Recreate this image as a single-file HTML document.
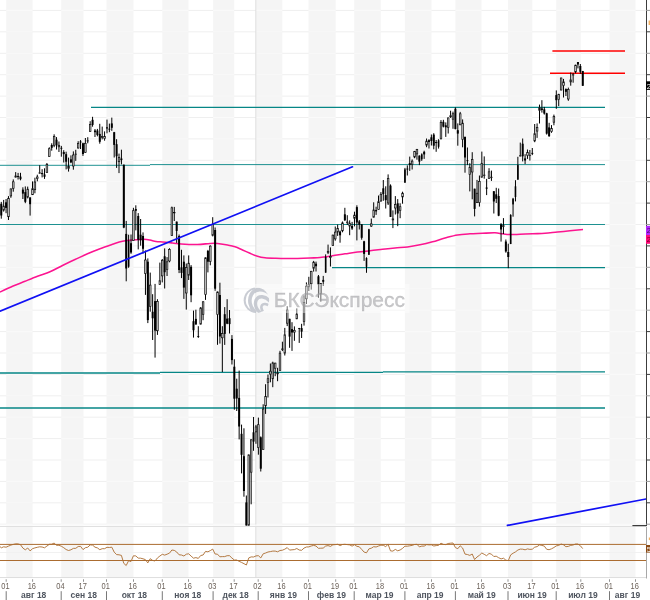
<!DOCTYPE html>
<html lang="ru"><head><meta charset="utf-8"><title>S&amp;P 500</title>
<style>html,body{margin:0;padding:0;background:#fff}body{width:650px;height:600px;overflow:hidden;font-family:"Liberation Sans",sans-serif}svg{display:block}.d{font-size:8.3px;fill:#6c625a}.m{font-size:8.5px;font-weight:bold;fill:#4f555f}.wm{font-size:20.5px;fill:#9c9ca0;fill-opacity:.55;stroke:#9c9ca0;stroke-opacity:.55;stroke-width:.35px}</style></head><body>
<svg width="650" height="600" viewBox="0 0 650 600" font-family="Liberation Sans, sans-serif">
<rect width="650" height="600" fill="#fff"/>
<g fill="#f5f5f5">
<rect x="6.2" y="0" width="26.4" height="578"/>
<rect x="61.2" y="0" width="22.3" height="578"/>
<rect x="106.5" y="0" width="27.0" height="578"/>
<rect x="162.3" y="0" width="26.2" height="578"/>
<rect x="213.1" y="0" width="21.1" height="578"/>
<rect x="255.8" y="0" width="26.5" height="578"/>
<rect x="308.5" y="0" width="27.2" height="578"/>
<rect x="354.2" y="0" width="26.6" height="578"/>
<rect x="404.9" y="0" width="26.6" height="578"/>
<rect x="455.4" y="0" width="26.1" height="578"/>
<rect x="508" y="0" width="24.3" height="578"/>
<rect x="556.2" y="0" width="24.6" height="578"/>
<rect x="609.5" y="0" width="26.0" height="578"/>
</g>
<g stroke="#efefef" stroke-width="1">
<line x1="0" y1="10.4" x2="646" y2="10.4"/>
<line x1="0" y1="31.8" x2="646" y2="31.8"/>
<line x1="0" y1="53.3" x2="646" y2="53.3"/>
<line x1="0" y1="74.7" x2="646" y2="74.7"/>
<line x1="0" y1="96.1" x2="646" y2="96.1"/>
<line x1="0" y1="117.5" x2="646" y2="117.5"/>
<line x1="0" y1="138.9" x2="646" y2="138.9"/>
<line x1="0" y1="160.3" x2="646" y2="160.3"/>
<line x1="0" y1="181.7" x2="646" y2="181.7"/>
<line x1="0" y1="203.1" x2="646" y2="203.1"/>
<line x1="0" y1="224.5" x2="646" y2="224.5"/>
<line x1="0" y1="245.9" x2="646" y2="245.9"/>
<line x1="0" y1="267.3" x2="646" y2="267.3"/>
<line x1="0" y1="288.8" x2="646" y2="288.8"/>
<line x1="0" y1="310.2" x2="646" y2="310.2"/>
<line x1="0" y1="331.6" x2="646" y2="331.6"/>
<line x1="0" y1="353.0" x2="646" y2="353.0"/>
<line x1="0" y1="374.4" x2="646" y2="374.4"/>
<line x1="0" y1="395.8" x2="646" y2="395.8"/>
<line x1="0" y1="417.2" x2="646" y2="417.2"/>
<line x1="0" y1="438.6" x2="646" y2="438.6"/>
<line x1="0" y1="460.0" x2="646" y2="460.0"/>
<line x1="0" y1="481.4" x2="646" y2="481.4"/>
<line x1="0" y1="502.8" x2="646" y2="502.8"/>
<line x1="0" y1="524.2" x2="646" y2="524.2"/>
</g>
<path d="M6.2 10.4H32.6M6.2 31.8H32.6M6.2 53.3H32.6M6.2 74.7H32.6M6.2 96.1H32.6M6.2 117.5H32.6M6.2 138.9H32.6M6.2 160.3H32.6M6.2 181.7H32.6M6.2 203.1H32.6M6.2 224.5H32.6M6.2 245.9H32.6M6.2 267.3H32.6M6.2 288.8H32.6M6.2 310.2H32.6M6.2 331.6H32.6M6.2 353.0H32.6M6.2 374.4H32.6M6.2 395.8H32.6M6.2 417.2H32.6M6.2 438.6H32.6M6.2 460.0H32.6M6.2 481.4H32.6M6.2 502.8H32.6M6.2 524.2H32.6M61.2 10.4H83.5M61.2 31.8H83.5M61.2 53.3H83.5M61.2 74.7H83.5M61.2 96.1H83.5M61.2 117.5H83.5M61.2 138.9H83.5M61.2 160.3H83.5M61.2 181.7H83.5M61.2 203.1H83.5M61.2 224.5H83.5M61.2 245.9H83.5M61.2 267.3H83.5M61.2 288.8H83.5M61.2 310.2H83.5M61.2 331.6H83.5M61.2 353.0H83.5M61.2 374.4H83.5M61.2 395.8H83.5M61.2 417.2H83.5M61.2 438.6H83.5M61.2 460.0H83.5M61.2 481.4H83.5M61.2 502.8H83.5M61.2 524.2H83.5M106.5 10.4H133.5M106.5 31.8H133.5M106.5 53.3H133.5M106.5 74.7H133.5M106.5 96.1H133.5M106.5 117.5H133.5M106.5 138.9H133.5M106.5 160.3H133.5M106.5 181.7H133.5M106.5 203.1H133.5M106.5 224.5H133.5M106.5 245.9H133.5M106.5 267.3H133.5M106.5 288.8H133.5M106.5 310.2H133.5M106.5 331.6H133.5M106.5 353.0H133.5M106.5 374.4H133.5M106.5 395.8H133.5M106.5 417.2H133.5M106.5 438.6H133.5M106.5 460.0H133.5M106.5 481.4H133.5M106.5 502.8H133.5M106.5 524.2H133.5M162.3 10.4H188.5M162.3 31.8H188.5M162.3 53.3H188.5M162.3 74.7H188.5M162.3 96.1H188.5M162.3 117.5H188.5M162.3 138.9H188.5M162.3 160.3H188.5M162.3 181.7H188.5M162.3 203.1H188.5M162.3 224.5H188.5M162.3 245.9H188.5M162.3 267.3H188.5M162.3 288.8H188.5M162.3 310.2H188.5M162.3 331.6H188.5M162.3 353.0H188.5M162.3 374.4H188.5M162.3 395.8H188.5M162.3 417.2H188.5M162.3 438.6H188.5M162.3 460.0H188.5M162.3 481.4H188.5M162.3 502.8H188.5M162.3 524.2H188.5M213.1 10.4H234.2M213.1 31.8H234.2M213.1 53.3H234.2M213.1 74.7H234.2M213.1 96.1H234.2M213.1 117.5H234.2M213.1 138.9H234.2M213.1 160.3H234.2M213.1 181.7H234.2M213.1 203.1H234.2M213.1 224.5H234.2M213.1 245.9H234.2M213.1 267.3H234.2M213.1 288.8H234.2M213.1 310.2H234.2M213.1 331.6H234.2M213.1 353.0H234.2M213.1 374.4H234.2M213.1 395.8H234.2M213.1 417.2H234.2M213.1 438.6H234.2M213.1 460.0H234.2M213.1 481.4H234.2M213.1 502.8H234.2M213.1 524.2H234.2M255.8 10.4H282.3M255.8 31.8H282.3M255.8 53.3H282.3M255.8 74.7H282.3M255.8 96.1H282.3M255.8 117.5H282.3M255.8 138.9H282.3M255.8 160.3H282.3M255.8 181.7H282.3M255.8 203.1H282.3M255.8 224.5H282.3M255.8 245.9H282.3M255.8 267.3H282.3M255.8 288.8H282.3M255.8 310.2H282.3M255.8 331.6H282.3M255.8 353.0H282.3M255.8 374.4H282.3M255.8 395.8H282.3M255.8 417.2H282.3M255.8 438.6H282.3M255.8 460.0H282.3M255.8 481.4H282.3M255.8 502.8H282.3M255.8 524.2H282.3M308.5 10.4H335.7M308.5 31.8H335.7M308.5 53.3H335.7M308.5 74.7H335.7M308.5 96.1H335.7M308.5 117.5H335.7M308.5 138.9H335.7M308.5 160.3H335.7M308.5 181.7H335.7M308.5 203.1H335.7M308.5 224.5H335.7M308.5 245.9H335.7M308.5 267.3H335.7M308.5 288.8H335.7M308.5 310.2H335.7M308.5 331.6H335.7M308.5 353.0H335.7M308.5 374.4H335.7M308.5 395.8H335.7M308.5 417.2H335.7M308.5 438.6H335.7M308.5 460.0H335.7M308.5 481.4H335.7M308.5 502.8H335.7M308.5 524.2H335.7M354.2 10.4H380.8M354.2 31.8H380.8M354.2 53.3H380.8M354.2 74.7H380.8M354.2 96.1H380.8M354.2 117.5H380.8M354.2 138.9H380.8M354.2 160.3H380.8M354.2 181.7H380.8M354.2 203.1H380.8M354.2 224.5H380.8M354.2 245.9H380.8M354.2 267.3H380.8M354.2 288.8H380.8M354.2 310.2H380.8M354.2 331.6H380.8M354.2 353.0H380.8M354.2 374.4H380.8M354.2 395.8H380.8M354.2 417.2H380.8M354.2 438.6H380.8M354.2 460.0H380.8M354.2 481.4H380.8M354.2 502.8H380.8M354.2 524.2H380.8M404.9 10.4H431.5M404.9 31.8H431.5M404.9 53.3H431.5M404.9 74.7H431.5M404.9 96.1H431.5M404.9 117.5H431.5M404.9 138.9H431.5M404.9 160.3H431.5M404.9 181.7H431.5M404.9 203.1H431.5M404.9 224.5H431.5M404.9 245.9H431.5M404.9 267.3H431.5M404.9 288.8H431.5M404.9 310.2H431.5M404.9 331.6H431.5M404.9 353.0H431.5M404.9 374.4H431.5M404.9 395.8H431.5M404.9 417.2H431.5M404.9 438.6H431.5M404.9 460.0H431.5M404.9 481.4H431.5M404.9 502.8H431.5M404.9 524.2H431.5M455.4 10.4H481.5M455.4 31.8H481.5M455.4 53.3H481.5M455.4 74.7H481.5M455.4 96.1H481.5M455.4 117.5H481.5M455.4 138.9H481.5M455.4 160.3H481.5M455.4 181.7H481.5M455.4 203.1H481.5M455.4 224.5H481.5M455.4 245.9H481.5M455.4 267.3H481.5M455.4 288.8H481.5M455.4 310.2H481.5M455.4 331.6H481.5M455.4 353.0H481.5M455.4 374.4H481.5M455.4 395.8H481.5M455.4 417.2H481.5M455.4 438.6H481.5M455.4 460.0H481.5M455.4 481.4H481.5M455.4 502.8H481.5M455.4 524.2H481.5M508 10.4H532.3M508 31.8H532.3M508 53.3H532.3M508 74.7H532.3M508 96.1H532.3M508 117.5H532.3M508 138.9H532.3M508 160.3H532.3M508 181.7H532.3M508 203.1H532.3M508 224.5H532.3M508 245.9H532.3M508 267.3H532.3M508 288.8H532.3M508 310.2H532.3M508 331.6H532.3M508 353.0H532.3M508 374.4H532.3M508 395.8H532.3M508 417.2H532.3M508 438.6H532.3M508 460.0H532.3M508 481.4H532.3M508 502.8H532.3M508 524.2H532.3M556.2 10.4H580.8M556.2 31.8H580.8M556.2 53.3H580.8M556.2 74.7H580.8M556.2 96.1H580.8M556.2 117.5H580.8M556.2 138.9H580.8M556.2 160.3H580.8M556.2 181.7H580.8M556.2 203.1H580.8M556.2 224.5H580.8M556.2 245.9H580.8M556.2 267.3H580.8M556.2 288.8H580.8M556.2 310.2H580.8M556.2 331.6H580.8M556.2 353.0H580.8M556.2 374.4H580.8M556.2 395.8H580.8M556.2 417.2H580.8M556.2 438.6H580.8M556.2 460.0H580.8M556.2 481.4H580.8M556.2 502.8H580.8M556.2 524.2H580.8M609.5 10.4H635.5M609.5 31.8H635.5M609.5 53.3H635.5M609.5 74.7H635.5M609.5 96.1H635.5M609.5 117.5H635.5M609.5 138.9H635.5M609.5 160.3H635.5M609.5 181.7H635.5M609.5 203.1H635.5M609.5 224.5H635.5M609.5 245.9H635.5M609.5 267.3H635.5M609.5 288.8H635.5M609.5 310.2H635.5M609.5 331.6H635.5M609.5 353.0H635.5M609.5 374.4H635.5M609.5 395.8H635.5M609.5 417.2H635.5M609.5 438.6H635.5M609.5 460.0H635.5M609.5 481.4H635.5M609.5 502.8H635.5M609.5 524.2H635.5" stroke="#fafafa" stroke-width="1" fill="none"/>
<line x1="255.8" y1="0" x2="255.8" y2="578" stroke="#dedede" stroke-width="1"/>
<line x1="0" y1="525.2" x2="646" y2="525.2" stroke="#fdfdfd" stroke-width="1"/>
<line x1="0" y1="526.5" x2="646" y2="526.5" stroke="#e0e0e0" stroke-width="1"/>
<line x1="0" y1="552.5" x2="646" y2="552.5" stroke="#f1f1f1" stroke-width="1"/>
<line x1="0" y1="577.6" x2="646" y2="577.6" stroke="#dcdcdc" stroke-width="1"/>
<g stroke="#068686" fill="none">
<line x1="91" y1="107.4" x2="605" y2="107.4" stroke-width="1.35"/>
<path d="M0 165.3H150M150 164.6H605" stroke-width="0.9"/>
<line x1="0" y1="224.5" x2="605" y2="224.5" stroke-width="0.9"/>
<line x1="332" y1="267.6" x2="605" y2="267.6" stroke-width="1.35"/>
<path d="M0 373H160M160 372.4H383M383 371.9H605" stroke-width="1.3"/>
<line x1="0" y1="408" x2="605" y2="408" stroke-width="1.35"/>
</g>
<g stroke="#ff0000" stroke-width="1.5"><line x1="552.4" y1="51" x2="625" y2="51"/><line x1="550" y1="73.2" x2="625" y2="73.2"/></g>
<path d="M0 292C2.1 291.1 8.3 288.1 12.5 286.3C16.7 284.5 20.8 283.0 25 281.3C29.2 279.6 33.3 277.9 37.5 276.3C41.7 274.7 45.8 273.6 50 271.8C54.2 270.0 58.3 267.6 62.5 265.5C66.7 263.4 70.8 261.4 75 259.5C79.2 257.6 83.3 255.6 87.5 253.8C91.7 252.0 95.8 250.4 100 248.8C104.2 247.2 108.8 245.6 112.5 244.3C116.2 243.1 119.2 242.0 122.5 241.3C125.8 240.6 128.9 240.3 132.5 240C136.1 239.7 140.9 239.3 143.8 239.3C146.7 239.3 148.0 239.6 150 240C152.0 240.4 153.9 241.2 156 241.5C158.1 241.8 159.8 241.8 162.5 242C165.2 242.2 168.8 242.6 172.5 243C176.2 243.4 180.8 244.1 185 244.3C189.2 244.6 193.3 244.6 197.5 244.5C201.7 244.4 206.7 243.7 210 243.5C213.3 243.3 214.6 243.2 217.5 243.5C220.4 243.8 224.6 244.4 227.5 245C230.4 245.6 232.5 246.0 235 246.8C237.5 247.6 240.0 248.9 242.5 250C245.0 251.1 247.5 252.2 250 253.3C252.5 254.4 255.0 255.6 257.5 256.3C260.0 257.1 262.1 257.5 265 257.8C267.9 258.1 271.7 258.2 275 258.3C278.3 258.4 281.2 258.5 285 258.5C288.8 258.5 293.3 258.6 297.5 258.5C301.7 258.4 306.2 258.2 310 258C313.8 257.8 316.2 257.9 320 257.5C323.8 257.1 328.3 256.4 332.5 255.8C336.7 255.2 340.8 254.4 345 253.8C349.2 253.2 353.3 252.5 357.5 252C361.7 251.5 365.8 251.2 370 250.8C374.2 250.4 378.3 249.8 382.5 249.3C386.7 248.8 390.8 248.4 395 248C399.2 247.6 403.3 247.5 407.5 247C411.7 246.5 415.8 245.7 420 244.8C424.2 243.9 428.3 242.9 432.5 241.8C436.7 240.7 440.8 239.1 445 238C449.2 236.9 453.3 235.7 457.5 235C461.7 234.3 465.8 234.1 470 233.8C474.2 233.5 478.3 233.5 482.5 233.3C486.7 233.1 491.7 232.7 495 232.8C498.3 232.9 500.0 233.5 502.5 233.8C505.0 234.1 507.1 234.4 510 234.5C512.9 234.6 516.2 234.4 520 234.3C523.8 234.2 528.3 234.0 532.5 233.8C536.7 233.6 540.8 233.6 545 233.3C549.2 233.0 553.3 232.4 557.5 232C561.7 231.6 565.8 231.2 570 230.8C574.2 230.4 580.8 229.7 583 229.5" stroke="#fc1490" stroke-width="1.55" fill="none"/>
<g id="candles">
<path d="M1.27 201.9V218.7M3.67 199.9V211.6M6.07 199.0V213.2M8.48 196.1V220.0M10.88 188.6V197.8M13.28 179.4V191.7M15.68 172.1V177.5M18.09 172.9V179.5M20.49 172.8V180.3M22.89 187.3V199.0M25.30 186.4V203.2M27.70 186.6V198.4M30.10 197.4V215.6M32.50 181.4V195.0M34.91 177.7V193.3M37.31 174.7V181.3M39.71 165.2V173.6M42.12 169.2V177.4M44.52 168.3V178.9M46.92 163.0V172.9M49.32 147.3V156.9M51.73 143.3V150.7M54.13 134.3V147.2M56.53 137.1V149.5M58.94 141.5V152.0M61.34 145.9V156.7M63.74 150.2V162.5M66.14 151.7V169.4M68.55 157.6V171.6M70.95 155.4V163.2M73.35 151.4V169.7M75.75 149.8V160.9M78.16 141.2V148.6M80.56 140.1V149.0M82.96 142.7V155.9M85.37 138.0V152.9M87.77 137.2V143.3M90.17 121.2V132.0M92.57 116.8V126.7M94.98 129.0V137.0M97.38 128.9V136.3M99.78 123.8V143.7M102.19 126.6V139.4M104.59 131.4V140.7M106.99 119.6V133.3M109.39 123.6V132.2M111.80 117.6V130.8M114.20 131.9V157.5M116.60 139.2V167.9M119.01 153.6V173.1M121.41 149.7V164.4M123.81 164.6V228.2M126.21 220.9V281.3M128.62 234.7V267.8M131.02 234.5V253.8M133.42 207.8V241.0M135.82 205.3V230.4M138.23 213.1V249.4M140.63 219.0V245.7M143.03 232.4V253.6M145.44 250.5V294.9M147.84 258.4V323.1M150.24 272.6V311.7M152.64 294.2V340.0M155.05 283.9V357.6M157.45 299.2V334.9M159.85 262.6V284.8M162.26 259.0V282.4M164.66 248.4V288.5M167.06 257.1V276.0M169.46 248.2V262.3M171.87 206.6V235.9M174.27 206.9V221.0M176.67 221.6V242.9M179.08 234.5V273.1M181.48 249.8V278.1M183.88 255.4V298.9M186.28 263.5V309.6M188.69 255.4V280.0M191.09 265.1V302.2M193.49 310.6V337.6M195.89 309.7V324.6M198.30 326.2V337.9M200.70 307.1V324.5M203.10 301.2V320.2M205.51 257.4V299.9M207.91 249.9V272.4M210.31 245.3V265.3M212.71 217.2V236.4M215.12 227.5V290.8M217.52 291.5V344.8M219.92 282.7V343.6M222.33 326.2V372.1M224.73 307.1V344.9M227.13 299.2V324.2M229.53 310.0V333.5M231.94 335.1V364.5M234.34 359.3V409.7M236.74 378.7V411.0M239.15 370.6V439.4M241.55 424.6V473.4M243.95 428.3V496.7M246.35 495.5V525.5M248.76 454.5V525.5M251.16 439.3V504.3M253.56 417.0V450.8M255.96 424.9V443.8M258.37 417.6V454.7M260.77 436.4V471.5M263.17 404.3V449.8M265.58 384.2V413.9M267.98 374.5V397.5M270.38 363.5V382.3M272.78 361.7V387.2M275.19 362.8V376.2M277.59 367.8V381.2M279.99 350.8V370.7M282.40 341.7V351.1M284.80 327.9V355.5M287.20 306.2V326.1M289.60 318.8V347.8M292.01 322.2V350.9M294.41 326.4V340.8M296.81 308.4V319.2M299.22 327.9V342.9M301.62 323.8V338.0M304.02 295.6V325.6M306.42 282.4V304.0M308.83 276.8V291.0M311.23 270.9V289.6M313.63 260.9V271.6M316.03 261.6V271.5M318.44 275.0V297.8M320.84 283.0V301.7M323.24 275.9V286.0M325.65 254.4V272.6M328.05 244.6V254.1M330.45 247.4V266.5M332.85 234.7V245.8M335.26 226.5V240.7M337.66 224.6V235.9M340.06 230.5V242.7M342.47 221.5V232.3M344.87 207.8V221.0M347.27 215.2V224.9M349.67 220.4V235.2M352.08 221.9V229.9M354.48 211.7V226.4M356.88 205.3V240.4M359.29 220.0V229.5M361.69 224.3V239.7M364.09 240.8V260.9M366.49 257.3V272.8M368.90 228.8V254.8M371.30 218.6V226.9M373.70 202.3V217.5M376.10 206.7V214.9M378.51 195.5V209.7M380.91 192.1V201.7M383.31 180.0V200.8M385.72 186.3V208.5M388.12 174.4V205.0M390.52 184.4V217.0M392.92 210.4V228.1M395.33 196.1V214.5M397.73 199.1V226.2M400.13 203.3V218.2M402.54 191.7V203.7M404.94 167.9V182.7M407.34 165.4V175.5M409.74 156.6V170.9M412.15 159.4V169.5M414.55 150.9V158.2M416.95 148.9V159.7M419.36 155.4V165.1M421.76 153.4V160.9M424.16 150.7V158.9M426.56 138.5V147.2M428.97 139.2V148.5M431.37 134.5V145.5M433.77 133.2V149.3M436.17 140.0V151.8M438.58 139.2V148.6M440.98 120.1V139.6M443.38 119.8V127.4M445.79 122.4V136.9M448.19 117.6V133.5M450.59 110.7V117.9M452.99 111.6V128.8M455.40 107.4V129.3M457.80 123.4V145.7M460.20 111.9V125.2M462.61 119.4V147.3M465.01 136.8V172.7M467.41 147.5V165.1M469.81 163.2V191.4M472.22 152.2V199.3M474.62 188.7V216.4M477.02 179.9V203.0M479.43 175.5V206.6M481.83 151.6V177.6M484.23 156.4V178.7M486.63 178.9V195.1M489.04 168.2V178.9M491.44 170.6V180.9M493.84 191.2V213.5M496.24 187.8V203.0M498.65 188.5V216.2M501.05 223.1V241.6M503.45 218.1V234.0M505.86 239.5V252.7M508.26 243.7V268.2M510.66 214.2V244.1M513.06 197.9V216.7M515.47 180.2V201.4M517.87 156.8V179.6M520.27 142.6V156.4M522.68 138.5V161.4M525.08 154.2V164.1M527.48 149.5V158.9M529.88 150.0V160.6M532.29 148.0V155.1M534.69 124.0V142.2M537.09 123.4V137.9M539.50 104.6V123.5M541.90 100.2V112.6M544.30 106.9V114.6M546.70 112.8V134.6M549.11 122.8V136.8M551.51 125.1V132.8M553.91 114.6V125.3M556.31 90.4V108.8M558.72 93.8V106.1M561.12 77.7V90.4M563.52 78.9V97.5M565.93 88.4V96.0M568.33 87.6V100.8M570.73 72.5V85.7M573.13 73.0V82.7M575.54 64.7V73.3M577.94 62.0V68.4M580.34 64.0V73.8M582.75 70.9V85.9" stroke="#000" stroke-width="1" fill="none"/>
<g fill="#000">
<rect x="0.27" y="203.8" width="2.0" height="11.7"/>
<rect x="5.07" y="202.3" width="2.0" height="5.6"/>
<rect x="19.49" y="176.6" width="2.0" height="2.6"/>
<rect x="21.89" y="189.6" width="2.0" height="4.0"/>
<rect x="24.30" y="192.1" width="2.0" height="9.7"/>
<rect x="29.10" y="197.4" width="2.0" height="6.8"/>
<rect x="43.52" y="174.4" width="2.0" height="2.4"/>
<rect x="50.73" y="145.0" width="2.0" height="2.8"/>
<rect x="55.53" y="139.7" width="2.0" height="5.6"/>
<rect x="60.34" y="147.8" width="2.0" height="0.9"/>
<rect x="62.74" y="152.0" width="2.0" height="2.1"/>
<rect x="65.14" y="154.2" width="2.0" height="7.5"/>
<rect x="69.95" y="159.3" width="2.0" height="3.1"/>
<rect x="79.56" y="141.5" width="2.0" height="1.0"/>
<rect x="81.96" y="143.3" width="2.0" height="10.7"/>
<rect x="91.57" y="119.8" width="2.0" height="5.1"/>
<rect x="93.98" y="130.5" width="2.0" height="1.7"/>
<rect x="96.38" y="130.5" width="2.0" height="4.4"/>
<rect x="98.78" y="133.9" width="2.0" height="7.9"/>
<rect x="105.99" y="127.3" width="2.0" height="1.2"/>
<rect x="108.39" y="128.7" width="2.0" height="0.9"/>
<rect x="110.80" y="123.4" width="2.0" height="4.4"/>
<rect x="113.20" y="132.2" width="2.0" height="12.7"/>
<rect x="115.60" y="144.2" width="2.0" height="12.1"/>
<rect x="120.41" y="158.5" width="2.0" height="1.6"/>
<rect x="122.81" y="164.7" width="2.0" height="62.9"/>
<rect x="125.21" y="233.9" width="2.0" height="34.6"/>
<rect x="127.82" y="240.9" width="1.6" height="25.8"/>
<rect x="130.02" y="243.2" width="2.0" height="9.3"/>
<rect x="134.82" y="209.0" width="2.0" height="1.8"/>
<rect x="137.23" y="216.0" width="2.0" height="23.7"/>
<rect x="139.63" y="234.7" width="2.0" height="5.6"/>
<rect x="142.03" y="236.0" width="2.0" height="12.8"/>
<rect x="146.84" y="261.7" width="2.0" height="58.4"/>
<rect x="151.64" y="311.7" width="2.0" height="6.6"/>
<rect x="154.05" y="301.1" width="2.0" height="29.5"/>
<rect x="163.66" y="256.3" width="2.0" height="15.9"/>
<rect x="175.67" y="221.6" width="2.0" height="9.3"/>
<rect x="178.08" y="236.0" width="2.0" height="34.0"/>
<rect x="180.48" y="267.3" width="2.0" height="5.6"/>
<rect x="182.88" y="261.7" width="2.0" height="25.9"/>
<rect x="190.09" y="266.8" width="2.0" height="28.5"/>
<rect x="192.49" y="321.2" width="2.0" height="9.1"/>
<rect x="194.89" y="318.9" width="2.0" height="5.6"/>
<rect x="197.30" y="336.1" width="2.0" height="0.9"/>
<rect x="206.91" y="250.9" width="2.0" height="10.8"/>
<rect x="214.12" y="230.0" width="2.0" height="58.7"/>
<rect x="218.92" y="295.0" width="2.0" height="41.5"/>
<rect x="223.73" y="314.2" width="2.0" height="19.7"/>
<rect x="226.13" y="318.6" width="2.0" height="5.1"/>
<rect x="228.53" y="318.2" width="2.0" height="5.9"/>
<rect x="230.94" y="338.9" width="2.0" height="21.2"/>
<rect x="233.34" y="366.7" width="2.0" height="32.0"/>
<rect x="235.74" y="388.7" width="2.0" height="9.8"/>
<rect x="238.15" y="397.9" width="2.0" height="28.6"/>
<rect x="240.55" y="433.8" width="2.0" height="21.0"/>
<rect x="242.95" y="456.2" width="2.0" height="34.8"/>
<rect x="245.35" y="502.4" width="2.0" height="23.1"/>
<rect x="252.56" y="432.3" width="2.0" height="9.3"/>
<rect x="259.77" y="437.3" width="2.0" height="31.4"/>
<rect x="288.60" y="318.8" width="2.0" height="17.8"/>
<rect x="291.01" y="329.1" width="2.0" height="3.4"/>
<rect x="298.22" y="328.0" width="2.0" height="0.9"/>
<rect x="300.62" y="328.1" width="2.0" height="3.5"/>
<rect x="315.03" y="263.7" width="2.0" height="2.5"/>
<rect x="317.44" y="276.3" width="2.0" height="8.2"/>
<rect x="322.24" y="279.9" width="2.0" height="1.9"/>
<rect x="324.85" y="256.9" width="1.6" height="15.8"/>
<rect x="339.06" y="231.5" width="2.0" height="3.8"/>
<rect x="343.87" y="214.3" width="2.0" height="5.9"/>
<rect x="351.08" y="225.9" width="2.0" height="2.6"/>
<rect x="355.88" y="207.1" width="2.0" height="15.4"/>
<rect x="358.29" y="221.4" width="2.0" height="3.4"/>
<rect x="360.69" y="224.3" width="2.0" height="13.5"/>
<rect x="363.09" y="241.3" width="2.0" height="12.6"/>
<rect x="365.69" y="258.0" width="1.6" height="8.8"/>
<rect x="368.10" y="229.3" width="1.6" height="25.5"/>
<rect x="375.10" y="210.0" width="2.0" height="1.4"/>
<rect x="382.31" y="188.3" width="2.0" height="5.9"/>
<rect x="384.72" y="195.1" width="2.0" height="5.1"/>
<rect x="389.52" y="185.6" width="2.0" height="31.3"/>
<rect x="396.73" y="203.3" width="2.0" height="10.2"/>
<rect x="404.14" y="169.4" width="1.6" height="13.3"/>
<rect x="406.34" y="168.6" width="2.0" height="0.9"/>
<rect x="408.74" y="163.1" width="2.0" height="1.9"/>
<rect x="418.36" y="155.6" width="2.0" height="6.0"/>
<rect x="420.96" y="154.4" width="1.6" height="4.9"/>
<rect x="423.16" y="151.8" width="2.0" height="2.6"/>
<rect x="427.97" y="140.1" width="2.0" height="1.9"/>
<rect x="430.37" y="137.3" width="2.0" height="3.7"/>
<rect x="432.77" y="134.6" width="2.0" height="11.1"/>
<rect x="437.78" y="140.3" width="1.6" height="6.5"/>
<rect x="442.38" y="121.8" width="2.0" height="4.8"/>
<rect x="444.79" y="125.3" width="2.0" height="2.0"/>
<rect x="454.40" y="108.7" width="2.0" height="20.4"/>
<rect x="456.80" y="130.2" width="2.0" height="3.4"/>
<rect x="464.01" y="136.8" width="2.0" height="20.7"/>
<rect x="466.41" y="160.2" width="2.0" height="0.9"/>
<rect x="473.62" y="188.7" width="2.0" height="20.2"/>
<rect x="485.63" y="187.5" width="2.0" height="1.2"/>
<rect x="492.84" y="191.2" width="2.0" height="10.3"/>
<rect x="495.24" y="194.3" width="2.0" height="4.5"/>
<rect x="497.65" y="196.0" width="2.0" height="19.7"/>
<rect x="500.05" y="224.3" width="2.0" height="5.2"/>
<rect x="504.86" y="241.5" width="2.0" height="10.0"/>
<rect x="507.26" y="252.0" width="2.0" height="5.0"/>
<rect x="509.86" y="215.0" width="1.6" height="29.0"/>
<rect x="512.26" y="198.7" width="1.6" height="5.7"/>
<rect x="514.67" y="186.3" width="1.6" height="10.7"/>
<rect x="517.07" y="165.1" width="1.6" height="14.6"/>
<rect x="521.68" y="143.7" width="2.0" height="12.6"/>
<rect x="524.08" y="158.4" width="2.0" height="2.1"/>
<rect x="531.29" y="152.9" width="2.0" height="0.9"/>
<rect x="540.90" y="108.4" width="2.0" height="1.6"/>
<rect x="543.30" y="109.3" width="2.0" height="4.3"/>
<rect x="545.70" y="113.3" width="2.0" height="20.3"/>
<rect x="548.11" y="127.4" width="2.0" height="8.8"/>
<rect x="555.31" y="95.1" width="2.0" height="5.1"/>
<rect x="564.93" y="89.1" width="2.0" height="2.7"/>
<rect x="576.94" y="62.0" width="2.0" height="2.5"/>
<rect x="579.34" y="66.0" width="2.0" height="5.8"/>
<rect x="581.75" y="71.0" width="2.0" height="14.8"/>
</g><g fill="#c6c6c6" stroke="#0a0a0a" stroke-width="0.68">
<rect x="2.86" y="206.1" width="1.62" height="4.0"/>
<rect x="7.67" y="198.3" width="1.62" height="18.4"/>
<rect x="10.07" y="188.9" width="1.62" height="7.0"/>
<rect x="12.47" y="181.8" width="1.62" height="6.5"/>
<rect x="14.87" y="176.0" width="1.62" height="1.1"/>
<rect x="17.28" y="176.4" width="1.62" height="0.3"/>
<rect x="26.89" y="189.2" width="1.62" height="7.9"/>
<rect x="31.69" y="188.7" width="1.62" height="6.0"/>
<rect x="34.10" y="182.0" width="1.62" height="7.7"/>
<rect x="36.50" y="177.0" width="1.62" height="1.6"/>
<rect x="38.90" y="172.8" width="1.62" height="0.4"/>
<rect x="41.31" y="173.5" width="1.62" height="0.3"/>
<rect x="46.11" y="164.4" width="1.62" height="8.1"/>
<rect x="48.51" y="148.7" width="1.62" height="7.9"/>
<rect x="53.32" y="136.4" width="1.62" height="8.9"/>
<rect x="58.13" y="145.3" width="1.62" height="1.5"/>
<rect x="67.74" y="166.6" width="1.62" height="1.7"/>
<rect x="72.54" y="155.0" width="1.62" height="11.0"/>
<rect x="74.94" y="154.1" width="1.62" height="0.3"/>
<rect x="77.35" y="143.4" width="1.62" height="4.6"/>
<rect x="84.56" y="143.3" width="1.62" height="9.0"/>
<rect x="86.96" y="140.7" width="1.62" height="0.3"/>
<rect x="89.36" y="124.4" width="1.62" height="7.2"/>
<rect x="101.38" y="136.4" width="1.62" height="1.0"/>
<rect x="103.78" y="136.4" width="1.62" height="2.2"/>
<rect x="118.20" y="157.5" width="1.62" height="4.2"/>
<rect x="132.61" y="210.7" width="1.62" height="29.9"/>
<rect x="144.63" y="260.0" width="1.62" height="13.4"/>
<rect x="149.43" y="285.1" width="1.62" height="21.2"/>
<rect x="156.64" y="301.5" width="1.62" height="29.2"/>
<rect x="159.04" y="280.7" width="1.62" height="3.7"/>
<rect x="161.45" y="260.3" width="1.62" height="15.6"/>
<rect x="166.25" y="261.8" width="1.62" height="7.8"/>
<rect x="168.65" y="249.5" width="1.62" height="11.5"/>
<rect x="171.06" y="207.8" width="1.62" height="27.7"/>
<rect x="173.46" y="212.6" width="1.62" height="0.3"/>
<rect x="185.47" y="267.5" width="1.62" height="25.5"/>
<rect x="187.88" y="263.2" width="1.62" height="12.0"/>
<rect x="199.89" y="308.0" width="1.62" height="16.1"/>
<rect x="202.29" y="301.8" width="1.62" height="12.5"/>
<rect x="204.70" y="257.8" width="1.62" height="36.7"/>
<rect x="209.50" y="246.1" width="1.62" height="15.3"/>
<rect x="211.90" y="224.6" width="1.62" height="10.7"/>
<rect x="216.71" y="292.0" width="1.62" height="22.5"/>
<rect x="221.52" y="333.6" width="1.62" height="4.2"/>
<rect x="247.95" y="454.9" width="1.62" height="70.3"/>
<rect x="250.35" y="439.8" width="1.62" height="32.4"/>
<rect x="255.15" y="426.9" width="1.62" height="5.0"/>
<rect x="257.56" y="424.7" width="1.62" height="22.9"/>
<rect x="262.36" y="409.1" width="1.62" height="40.4"/>
<rect x="264.77" y="396.4" width="1.62" height="9.4"/>
<rect x="267.17" y="378.7" width="1.62" height="3.8"/>
<rect x="269.57" y="371.2" width="1.62" height="2.9"/>
<rect x="271.97" y="362.9" width="1.62" height="15.8"/>
<rect x="274.38" y="363.1" width="1.62" height="5.2"/>
<rect x="276.78" y="372.9" width="1.62" height="1.0"/>
<rect x="279.18" y="353.1" width="1.62" height="17.3"/>
<rect x="281.59" y="349.0" width="1.62" height="0.3"/>
<rect x="283.99" y="334.8" width="1.62" height="18.3"/>
<rect x="286.39" y="310.0" width="1.62" height="13.2"/>
<rect x="293.60" y="330.3" width="1.62" height="1.8"/>
<rect x="296.00" y="314.2" width="1.62" height="4.6"/>
<rect x="303.21" y="302.6" width="1.62" height="18.9"/>
<rect x="305.61" y="286.2" width="1.62" height="12.6"/>
<rect x="308.02" y="284.5" width="1.62" height="2.3"/>
<rect x="310.42" y="271.3" width="1.62" height="12.5"/>
<rect x="312.82" y="262.2" width="1.62" height="6.0"/>
<rect x="320.03" y="283.5" width="1.62" height="10.4"/>
<rect x="327.24" y="251.3" width="1.62" height="1.2"/>
<rect x="329.64" y="256.5" width="1.62" height="0.9"/>
<rect x="332.04" y="235.1" width="1.62" height="10.3"/>
<rect x="334.45" y="232.1" width="1.62" height="6.8"/>
<rect x="336.85" y="228.6" width="1.62" height="3.4"/>
<rect x="341.66" y="222.9" width="1.62" height="7.9"/>
<rect x="346.46" y="222.1" width="1.62" height="0.4"/>
<rect x="348.86" y="223.2" width="1.62" height="2.8"/>
<rect x="353.67" y="215.1" width="1.62" height="3.2"/>
<rect x="370.49" y="223.8" width="1.62" height="2.3"/>
<rect x="372.89" y="210.0" width="1.62" height="7.2"/>
<rect x="377.70" y="201.7" width="1.62" height="7.7"/>
<rect x="380.10" y="194.3" width="1.62" height="6.7"/>
<rect x="387.31" y="178.6" width="1.62" height="24.4"/>
<rect x="392.11" y="218.9" width="1.62" height="1.0"/>
<rect x="394.52" y="204.5" width="1.62" height="3.5"/>
<rect x="399.32" y="206.7" width="1.62" height="3.6"/>
<rect x="401.73" y="193.2" width="1.62" height="3.7"/>
<rect x="411.34" y="161.1" width="1.62" height="3.2"/>
<rect x="413.74" y="151.6" width="1.62" height="5.4"/>
<rect x="416.14" y="149.4" width="1.62" height="4.5"/>
<rect x="425.75" y="141.1" width="1.62" height="4.0"/>
<rect x="435.36" y="142.4" width="1.62" height="0.3"/>
<rect x="440.17" y="122.3" width="1.62" height="16.2"/>
<rect x="447.38" y="117.9" width="1.62" height="9.4"/>
<rect x="449.78" y="115.7" width="1.62" height="1.0"/>
<rect x="452.18" y="113.7" width="1.62" height="5.5"/>
<rect x="459.39" y="113.8" width="1.62" height="11.0"/>
<rect x="461.80" y="123.2" width="1.62" height="16.2"/>
<rect x="469.00" y="167.3" width="1.62" height="7.1"/>
<rect x="471.41" y="159.6" width="1.62" height="12.4"/>
<rect x="476.21" y="193.2" width="1.62" height="9.5"/>
<rect x="478.62" y="181.4" width="1.62" height="21.1"/>
<rect x="481.02" y="163.3" width="1.62" height="13.9"/>
<rect x="483.42" y="175.1" width="1.62" height="0.3"/>
<rect x="488.23" y="171.8" width="1.62" height="6.7"/>
<rect x="490.63" y="177.2" width="1.62" height="0.3"/>
<rect x="502.64" y="225.7" width="1.62" height="0.7"/>
<rect x="519.46" y="155.7" width="1.62" height="0.3"/>
<rect x="526.67" y="152.4" width="1.62" height="3.2"/>
<rect x="529.07" y="155.3" width="1.62" height="0.3"/>
<rect x="533.88" y="133.7" width="1.62" height="7.2"/>
<rect x="536.28" y="127.5" width="1.62" height="3.6"/>
<rect x="538.69" y="107.7" width="1.62" height="2.6"/>
<rect x="550.70" y="128.6" width="1.62" height="3.0"/>
<rect x="553.10" y="116.5" width="1.62" height="5.7"/>
<rect x="557.91" y="94.3" width="1.62" height="5.2"/>
<rect x="560.31" y="78.0" width="1.62" height="12.0"/>
<rect x="562.71" y="81.9" width="1.62" height="3.7"/>
<rect x="567.52" y="89.6" width="1.62" height="9.4"/>
<rect x="569.92" y="79.9" width="1.62" height="2.0"/>
<rect x="572.32" y="74.7" width="1.62" height="0.3"/>
<rect x="574.73" y="65.2" width="1.62" height="6.7"/>
</g></g>
<g stroke="#1010f4" stroke-width="1.7" stroke-linecap="round"><line x1="0" y1="311.2" x2="352.5" y2="166.8"/><line x1="507.4" y1="525.4" x2="646" y2="499"/></g>
<rect x="239" y="284" width="170.5" height="29" fill="#fff" opacity="0.4"/>
<defs><clipPath id="gl"><circle cx="256.4" cy="300.3" r="12.7"/></clipPath></defs>
<g clip-path="url(#gl)" opacity="0.8" fill="none" stroke="#bcc0c9" stroke-linecap="butt"><path d="M255 287.4C248 288.5 243.9 294 243.9 300.5C243.9 307 248.5 312.3 256 313.2" stroke-width="3.6"/><path d="M270.5 294.2C264 288 255 287.8 251.3 294.5C248.6 300 249.8 307 255.5 312.6" stroke-width="3.8"/><path d="M270.5 301.6C265 295.6 258.6 295.2 256.2 300C254.6 304 256 309 260.5 313" stroke-width="3.4"/><path d="M270.5 307C266.5 303 262.8 303.2 261.6 306C260.9 308.4 262 311 264.5 313" stroke-width="2.6"/></g>
<text class="wm" x="273.7" y="307.2" textLength="131.3" lengthAdjust="spacingAndGlyphs">БКСЭкспресс</text>
<g stroke="#ab6c30" fill="none"><line x1="0" y1="544.4" x2="646" y2="544.4" stroke-width="1"/><line x1="0" y1="560.5" x2="646" y2="560.5" stroke-width="1"/>
<path d="M-1.1 545.6L1.3 547.8L3.7 546.8L6.1 547.2L8.5 546.1L10.9 545.1L13.3 544.4L15.7 543.8L18.1 543.9L20.5 544.7L22.9 548.1L25.3 549.8L27.7 548.0L30.1 550.9L32.5 548.7L34.9 547.9L37.3 547.3L39.7 546.8L42.1 547.0L44.5 547.8L46.9 546.1L49.3 544.3L51.7 544.2L54.1 543.1L56.5 545.3L58.9 545.3L61.3 546.2L63.7 547.7L66.1 549.5L68.5 550.5L70.9 549.8L73.4 548.4L75.8 548.3L78.2 546.5L80.6 546.4L83.0 549.6L85.4 547.7L87.8 547.2L90.2 544.9L92.6 545.1L95.0 547.2L97.4 547.9L99.8 549.7L102.2 548.7L104.6 548.7L107.0 547.3L109.4 547.5L111.8 547.2L114.2 552.1L116.6 554.6L119.0 554.8L121.4 555.4L123.8 563.4L126.2 565.5L128.6 560.7L131.0 561.5L133.4 555.8L135.8 555.9L138.2 558.1L140.6 558.2L143.0 558.8L145.4 559.6L147.8 562.9L150.2 558.7L152.6 560.4L155.0 561.0L157.5 557.9L159.9 556.0L162.3 554.3L164.7 555.1L167.1 554.2L169.5 553.1L171.9 550.0L174.3 550.4L176.7 552.0L179.1 554.8L181.5 555.0L183.9 556.0L186.3 554.2L188.7 553.8L191.1 556.1L193.5 558.2L195.9 557.6L198.3 558.4L200.7 555.5L203.1 555.0L205.5 551.4L207.9 551.8L210.3 550.6L212.7 549.1L215.1 554.0L217.5 554.2L219.9 556.8L222.3 556.6L224.7 556.6L227.1 555.7L229.5 555.7L231.9 558.0L234.3 560.0L236.7 560.0L239.1 561.3L241.5 562.4L244.0 563.7L246.4 565.0L248.8 557.9L251.2 556.9L253.6 557.0L256.0 555.9L258.4 555.7L260.8 557.9L263.2 553.8L265.6 553.0L268.0 552.0L270.4 551.6L272.8 551.1L275.2 551.1L277.6 551.8L280.0 550.5L282.4 550.2L284.8 549.2L287.2 547.6L289.6 550.1L292.0 549.8L294.4 549.6L296.8 548.5L299.2 550.0L301.6 550.3L304.0 548.1L306.4 547.0L308.8 546.9L311.2 546.0L313.6 545.4L316.0 546.0L318.4 548.3L320.8 548.2L323.2 548.1L325.6 546.1L328.0 545.6L330.5 546.4L332.9 544.8L335.3 544.6L337.7 544.3L340.1 545.6L342.5 544.5L344.9 544.3L347.3 544.6L349.7 544.9L352.1 546.1L354.5 544.7L356.9 546.3L359.3 546.8L361.7 549.4L364.1 552.1L366.5 552.8L368.9 548.9L371.3 548.2L373.7 546.7L376.1 547.0L378.5 546.0L380.9 545.2L383.3 545.3L385.7 546.6L388.1 544.3L390.5 550.9L392.9 551.1L395.3 549.4L397.7 550.8L400.1 550.0L402.5 548.4L404.9 546.2L407.3 546.2L409.7 545.8L412.1 545.4L414.5 544.5L417.0 544.3L419.4 546.9L421.8 546.1L424.2 546.1L426.6 544.6L429.0 544.9L431.4 544.8L433.8 546.0L436.2 545.6L438.6 545.3L441.0 543.2L443.4 544.4L445.8 544.6L448.2 543.5L450.6 543.2L453.0 543.0L455.4 547.6L457.8 548.7L460.2 545.8L462.6 548.0L465.0 554.1L467.4 554.5L469.8 555.4L472.2 554.0L474.6 559.5L477.0 557.0L479.4 555.3L481.8 553.0L484.2 554.3L486.6 555.7L489.0 553.5L491.4 554.1L493.8 556.5L496.2 556.2L498.6 557.7L501.1 558.9L503.5 558.2L505.9 560.2L508.3 560.6L510.7 554.9L513.1 553.2L515.5 551.9L517.9 550.0L520.3 549.1L522.7 549.2L525.1 549.8L527.5 548.9L529.9 549.4L532.3 549.2L534.7 547.2L537.1 546.6L539.5 544.9L541.9 545.4L544.3 546.1L546.7 549.3L549.1 549.7L551.5 548.8L553.9 547.5L556.3 545.9L558.7 545.4L561.1 544.0L563.5 544.8L565.9 546.7L568.3 546.4L570.7 545.4L573.1 545.0L575.5 544.0L577.9 544.0L580.3 545.7L582.7 548.6" stroke-width="0.9" stroke-linejoin="round"/></g>
<rect x="646" y="0" width="4" height="600" fill="#fff"/>
<rect x="0" y="578.5" width="650" height="22" fill="#fff"/>
<line x1="646.5" y1="0" x2="646.5" y2="526" stroke="#3c3c3c" stroke-width="1"/>
<line x1="632.4" y1="525.6" x2="647" y2="525.6" stroke="#333" stroke-width="1.1"/>
<line x1="646.5" y1="527" x2="646.5" y2="578.5" stroke="#a8a8a8" stroke-width="1"/>
<line x1="646" y1="10.4" x2="650" y2="10.4" stroke="#9a9a9a" stroke-width="1"/>
<line x1="646" y1="31.8" x2="650" y2="31.8" stroke="#3c3c3c" stroke-width="1"/>
<line x1="646" y1="53.3" x2="650" y2="53.3" stroke="#9a9a9a" stroke-width="1"/>
<line x1="646" y1="74.7" x2="650" y2="74.7" stroke="#3c3c3c" stroke-width="1"/>
<line x1="646" y1="96.1" x2="650" y2="96.1" stroke="#9a9a9a" stroke-width="1"/>
<line x1="646" y1="117.5" x2="650" y2="117.5" stroke="#3c3c3c" stroke-width="1"/>
<line x1="646" y1="138.9" x2="650" y2="138.9" stroke="#9a9a9a" stroke-width="1"/>
<line x1="646" y1="160.3" x2="650" y2="160.3" stroke="#3c3c3c" stroke-width="1"/>
<line x1="646" y1="181.7" x2="650" y2="181.7" stroke="#9a9a9a" stroke-width="1"/>
<line x1="646" y1="203.1" x2="650" y2="203.1" stroke="#3c3c3c" stroke-width="1"/>
<line x1="646" y1="224.5" x2="650" y2="224.5" stroke="#9a9a9a" stroke-width="1"/>
<line x1="646" y1="245.9" x2="650" y2="245.9" stroke="#3c3c3c" stroke-width="1"/>
<line x1="646" y1="267.3" x2="650" y2="267.3" stroke="#9a9a9a" stroke-width="1"/>
<line x1="646" y1="288.8" x2="650" y2="288.8" stroke="#3c3c3c" stroke-width="1"/>
<line x1="646" y1="310.2" x2="650" y2="310.2" stroke="#9a9a9a" stroke-width="1"/>
<line x1="646" y1="331.6" x2="650" y2="331.6" stroke="#3c3c3c" stroke-width="1"/>
<line x1="646" y1="353.0" x2="650" y2="353.0" stroke="#9a9a9a" stroke-width="1"/>
<line x1="646" y1="374.4" x2="650" y2="374.4" stroke="#3c3c3c" stroke-width="1"/>
<line x1="646" y1="395.8" x2="650" y2="395.8" stroke="#9a9a9a" stroke-width="1"/>
<line x1="646" y1="417.2" x2="650" y2="417.2" stroke="#3c3c3c" stroke-width="1"/>
<line x1="646" y1="438.6" x2="650" y2="438.6" stroke="#9a9a9a" stroke-width="1"/>
<line x1="646" y1="460.0" x2="650" y2="460.0" stroke="#3c3c3c" stroke-width="1"/>
<line x1="646" y1="481.4" x2="650" y2="481.4" stroke="#9a9a9a" stroke-width="1"/>
<line x1="646" y1="502.8" x2="650" y2="502.8" stroke="#3c3c3c" stroke-width="1"/>
<line x1="646" y1="524.2" x2="650" y2="524.2" stroke="#9a9a9a" stroke-width="1"/>
<rect x="648.6" y="20.5" width="2" height="4.5" fill="#f5b060"/>
<rect x="646" y="81.3" width="4" height="8.6" fill="#000"/><text x="646.8" y="88.6" font-size="7.6" fill="#fff">2</text>
<rect x="646" y="225.8" width="4" height="9.2" fill="#b428ff"/><text x="646.8" y="233.4" font-size="7.6" fill="#401060">2</text>
<rect x="646" y="235" width="4" height="8.8" fill="#ff0a78"/><text x="646.8" y="242.4" font-size="7.6" fill="#70002c">2</text>
<rect x="646" y="545" width="4" height="7.6" fill="#8a4a14"/><text x="646.8" y="551.6" font-size="7.6" fill="#fff">5</text>
<rect x="648.8" y="537.5" width="2" height="2.6" fill="#f5b060"/>
<g stroke="#777" stroke-width="0.8">
<line x1="6.2" y1="579.3" x2="6.2" y2="581.8"/>
<line x1="32.6" y1="579.3" x2="32.6" y2="581.8"/>
<line x1="61.2" y1="579.3" x2="61.2" y2="581.8"/>
<line x1="83.5" y1="579.3" x2="83.5" y2="581.8"/>
<line x1="106.5" y1="579.3" x2="106.5" y2="581.8"/>
<line x1="133.5" y1="579.3" x2="133.5" y2="581.8"/>
<line x1="162.3" y1="579.3" x2="162.3" y2="581.8"/>
<line x1="188.5" y1="579.3" x2="188.5" y2="581.8"/>
<line x1="213.1" y1="579.3" x2="213.1" y2="581.8"/>
<line x1="234.2" y1="579.3" x2="234.2" y2="581.8"/>
<line x1="258.2" y1="579.3" x2="258.2" y2="581.8"/>
<line x1="282.3" y1="579.3" x2="282.3" y2="581.8"/>
<line x1="308.5" y1="579.3" x2="308.5" y2="581.8"/>
<line x1="335.7" y1="579.3" x2="335.7" y2="581.8"/>
<line x1="354.2" y1="579.3" x2="354.2" y2="581.8"/>
<line x1="380.8" y1="579.3" x2="380.8" y2="581.8"/>
<line x1="404.9" y1="579.3" x2="404.9" y2="581.8"/>
<line x1="431.5" y1="579.3" x2="431.5" y2="581.8"/>
<line x1="455.4" y1="579.3" x2="455.4" y2="581.8"/>
<line x1="481.5" y1="579.3" x2="481.5" y2="581.8"/>
<line x1="508" y1="579.3" x2="508" y2="581.8"/>
<line x1="532.3" y1="579.3" x2="532.3" y2="581.8"/>
<line x1="556.2" y1="579.3" x2="556.2" y2="581.8"/>
<line x1="580.8" y1="579.3" x2="580.8" y2="581.8"/>
<line x1="609.5" y1="579.3" x2="609.5" y2="581.8"/>
<line x1="635.5" y1="579.3" x2="635.5" y2="581.8"/>
</g><g stroke="#555" stroke-width="0.8">
<line x1="6.2" y1="591.2" x2="6.2" y2="600"/>
<line x1="61.2" y1="591.2" x2="61.2" y2="600"/>
<line x1="106.5" y1="591.2" x2="106.5" y2="600"/>
<line x1="162.3" y1="591.2" x2="162.3" y2="600"/>
<line x1="213.1" y1="591.2" x2="213.1" y2="600"/>
<line x1="258.2" y1="591.2" x2="258.2" y2="600"/>
<line x1="308.5" y1="591.2" x2="308.5" y2="600"/>
<line x1="354.2" y1="591.2" x2="354.2" y2="600"/>
<line x1="404.9" y1="591.2" x2="404.9" y2="600"/>
<line x1="455.4" y1="591.2" x2="455.4" y2="600"/>
<line x1="508" y1="591.2" x2="508" y2="600"/>
<line x1="556.2" y1="591.2" x2="556.2" y2="600"/>
<line x1="609.5" y1="591.2" x2="609.5" y2="600"/>
</g>
<text class="d" x="5.4" y="589.3" text-anchor="middle" textLength="8.3" lengthAdjust="spacingAndGlyphs">01</text>
<text class="d" x="31.8" y="589.3" text-anchor="middle" textLength="8.3" lengthAdjust="spacingAndGlyphs">16</text>
<text class="d" x="60.4" y="589.3" text-anchor="middle" textLength="8.3" lengthAdjust="spacingAndGlyphs">04</text>
<text class="d" x="82.7" y="589.3" text-anchor="middle" textLength="8.3" lengthAdjust="spacingAndGlyphs">17</text>
<text class="d" x="105.7" y="589.3" text-anchor="middle" textLength="8.3" lengthAdjust="spacingAndGlyphs">01</text>
<text class="d" x="132.7" y="589.3" text-anchor="middle" textLength="8.3" lengthAdjust="spacingAndGlyphs">16</text>
<text class="d" x="161.5" y="589.3" text-anchor="middle" textLength="8.3" lengthAdjust="spacingAndGlyphs">01</text>
<text class="d" x="187.7" y="589.3" text-anchor="middle" textLength="8.3" lengthAdjust="spacingAndGlyphs">16</text>
<text class="d" x="212.3" y="589.3" text-anchor="middle" textLength="8.3" lengthAdjust="spacingAndGlyphs">03</text>
<text class="d" x="233.4" y="589.3" text-anchor="middle" textLength="8.3" lengthAdjust="spacingAndGlyphs">17</text>
<text class="d" x="257.4" y="589.3" text-anchor="middle" textLength="8.3" lengthAdjust="spacingAndGlyphs">02</text>
<text class="d" x="281.5" y="589.3" text-anchor="middle" textLength="8.3" lengthAdjust="spacingAndGlyphs">16</text>
<text class="d" x="307.7" y="589.3" text-anchor="middle" textLength="8.3" lengthAdjust="spacingAndGlyphs">01</text>
<text class="d" x="334.9" y="589.3" text-anchor="middle" textLength="8.3" lengthAdjust="spacingAndGlyphs">19</text>
<text class="d" x="353.4" y="589.3" text-anchor="middle" textLength="8.3" lengthAdjust="spacingAndGlyphs">01</text>
<text class="d" x="380.0" y="589.3" text-anchor="middle" textLength="8.3" lengthAdjust="spacingAndGlyphs">18</text>
<text class="d" x="404.1" y="589.3" text-anchor="middle" textLength="8.3" lengthAdjust="spacingAndGlyphs">01</text>
<text class="d" x="430.7" y="589.3" text-anchor="middle" textLength="8.3" lengthAdjust="spacingAndGlyphs">16</text>
<text class="d" x="454.6" y="589.3" text-anchor="middle" textLength="8.3" lengthAdjust="spacingAndGlyphs">01</text>
<text class="d" x="480.7" y="589.3" text-anchor="middle" textLength="8.3" lengthAdjust="spacingAndGlyphs">16</text>
<text class="d" x="507.2" y="589.3" text-anchor="middle" textLength="8.3" lengthAdjust="spacingAndGlyphs">03</text>
<text class="d" x="531.5" y="589.3" text-anchor="middle" textLength="8.3" lengthAdjust="spacingAndGlyphs">17</text>
<text class="d" x="555.4" y="589.3" text-anchor="middle" textLength="8.3" lengthAdjust="spacingAndGlyphs">01</text>
<text class="d" x="580.0" y="589.3" text-anchor="middle" textLength="8.3" lengthAdjust="spacingAndGlyphs">16</text>
<text class="d" x="608.7" y="589.3" text-anchor="middle" textLength="8.3" lengthAdjust="spacingAndGlyphs">01</text>
<text class="d" x="634.7" y="589.3" text-anchor="middle" textLength="8.3" lengthAdjust="spacingAndGlyphs">16</text>
<text class="m" x="33.7" y="598" text-anchor="middle">авг 18</text>
<text class="m" x="83.8" y="598" text-anchor="middle">сен 18</text>
<text class="m" x="134.4" y="598" text-anchor="middle">окт 18</text>
<text class="m" x="187.7" y="598" text-anchor="middle">ноя 18</text>
<text class="m" x="235.6" y="598" text-anchor="middle">дек 18</text>
<text class="m" x="283.4" y="598" text-anchor="middle">янв 19</text>
<text class="m" x="331.4" y="598" text-anchor="middle">фев 19</text>
<text class="m" x="379.5" y="598" text-anchor="middle">мар 19</text>
<text class="m" x="430.1" y="598" text-anchor="middle">апр 19</text>
<text class="m" x="481.7" y="598" text-anchor="middle">май 19</text>
<text class="m" x="532.1" y="598" text-anchor="middle">июн 19</text>
<text class="m" x="582.9" y="598" text-anchor="middle">июл 19</text>
<text class="m" x="627.5" y="598" text-anchor="middle">авг 19</text>
</svg></body></html>
